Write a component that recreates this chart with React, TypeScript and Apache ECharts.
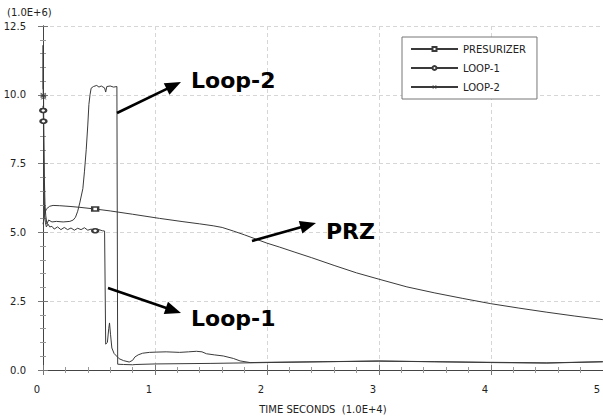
import React, { useEffect, useRef } from "react";
import * as echarts from "echarts";

// ---- data (time in 1.0E+4 s, value in 1.0E+6) ----
const przTime = [0, 0.005, 0.013, 0.03, 0.06, 0.09, 0.15, 0.25, 0.33, 0.466, 0.6, 0.8, 1.04, 1.25, 1.4, 1.52, 1.6, 1.7, 1.8, 1.9, 2.0, 2.11, 2.25, 2.4, 2.6, 2.8, 3.0, 3.25, 3.5, 3.75, 4.0, 4.25, 4.5, 4.75, 5.0];
const przValue = [5.3, 5.4, 5.65, 5.85, 5.95, 5.98, 5.97, 5.94, 5.91, 5.85, 5.78, 5.66, 5.51, 5.39, 5.31, 5.24, 5.18, 5.05, 4.91, 4.76, 4.61, 4.47, 4.28, 4.08, 3.8, 3.53, 3.3, 3.02, 2.8, 2.6, 2.41, 2.25, 2.1, 1.96, 1.83];
const przMarkerTime = [0.466];

const loop1Time = [0, 0.002, 0.004, 0.006, 0.01, 0.015, 0.022, 0.03, 0.045, 0.06, 0.08, 0.1, 0.13, 0.16, 0.19, 0.22, 0.25, 0.28, 0.31, 0.34, 0.37, 0.4, 0.43, 0.466, 0.5, 0.53, 0.55, 0.56, 0.575, 0.587, 0.594, 0.603, 0.615, 0.635, 0.68, 0.72, 0.77, 0.8, 0.82, 0.85, 0.89, 0.95, 1.01, 1.1, 1.22, 1.3, 1.37, 1.42, 1.46, 1.53, 1.61, 1.7, 1.76, 1.85, 2.0, 2.5, 3.0, 3.5, 4.0, 4.5, 5.0];
const loop1Value = [9.6, 9.43, 9.04, 8.0, 6.5, 5.6, 5.35, 5.2, 5.3, 5.2, 5.22, 5.12, 5.2, 5.1, 5.18, 5.1, 5.16, 5.08, 5.15, 5.1, 5.17, 5.08, 5.12, 5.06, 5.1, 5.06, 5.05, 0.94, 1.0, 1.5, 1.71, 1.3, 0.8, 0.6, 0.41, 0.34, 0.29, 0.35, 0.47, 0.55, 0.61, 0.64, 0.65, 0.66, 0.64, 0.66, 0.68, 0.66, 0.59, 0.55, 0.51, 0.42, 0.33, 0.27, 0.28, 0.3, 0.33, 0.3, 0.28, 0.26, 0.3];
const loop1MarkerTime = [0.002, 0.004, 0.466];

const loop2Time = [0, 0.001, 0.002, 0.003, 0.005, 0.008, 0.012, 0.018, 0.025, 0.035, 0.05, 0.08, 0.12, 0.18, 0.24, 0.27, 0.29, 0.31, 0.33, 0.356, 0.37, 0.386, 0.4, 0.41, 0.42, 0.43, 0.45, 0.48, 0.5, 0.52, 0.55, 0.56, 0.57, 0.6, 0.63, 0.66, 0.667, 0.72, 0.8, 0.83, 1.0, 1.5, 2.0, 2.5, 3.0, 3.5, 4.0, 4.5, 5.0];
const loop2Value = [10.2, 11.8, 10.0, 9.96, 9.9, 8.5, 7.0, 6.0, 5.6, 5.3, 5.45, 5.38, 5.4, 5.38, 5.4, 5.45, 5.55, 5.77, 6.1, 6.59, 7.2, 8.0, 8.9, 9.65, 10.0, 10.24, 10.3, 10.34, 10.28, 10.32, 10.25, 10.1, 10.3, 10.32, 10.28, 10.3, 0.21, 0.2, 0.19, 0.2, 0.22, 0.24, 0.27, 0.3, 0.32, 0.3, 0.27, 0.25, 0.3];
const loop2MarkerTime = [0.002, 0.003, 0.005];

const seriesNames = ["PRESURIZER", "LOOP-1", "LOOP-2"];
const yTicks = [0, 2.5, 5, 7.5, 10, 12.5];
const xTicks = [0, 1, 2, 3, 4, 5];

const X_SYMBOL = "path://M0,1L1,0L5,4L9,0L10,1L6,5L10,9L9,10L5,6L1,10L0,9L4,5Z";

function buildData(times: number[], values: number[], markers: number[]) {
  return times.map((t, i) =>
    markers.includes(t) ? { value: [t, values[i]] } : { value: [t, values[i]], symbol: "none" }
  );
}

function arrow(x1: number, y1: number, x2: number, y2: number) {
  const len = 16;
  const half = 6.5;
  const dx = x2 - x1;
  const dy = y2 - y1;
  const d = Math.sqrt(dx * dx + dy * dy);
  const ux = dx / d;
  const uy = dy / d;
  const bx = x2 - ux * len;
  const by = y2 - uy * len;
  return [
    { type: "line", shape: { x1, y1, x2: bx + ux * 2, y2: by + uy * 2 }, style: { stroke: "#000", lineWidth: 2.6 }, z: 100 },
    {
      type: "polygon",
      shape: { points: [[x2, y2], [bx - uy * half, by + ux * half], [bx + uy * half, by - ux * half]] },
      style: { fill: "#000" },
      z: 100,
    },
  ];
}

const FONT = "DejaVu Sans";

export default function App() {
  const ref = useRef<HTMLDivElement>(null);
  useEffect(() => {
    if (!ref.current) return;
    const chart = echarts.init(ref.current, undefined, { renderer: "svg" });
    const lineColor = "#3a3a3a";
    const axisCommon = {
      type: "value" as const,
      axisLine: { show: true, lineStyle: { color: "#444", width: 1 } },
      axisTick: { show: true, inside: true, length: 5, lineStyle: { color: "#777" } },
      minorTick: { show: true, splitNumber: 5, length: 3, lineStyle: { color: "#999" } },
    };
    const gridLine = { show: true, lineStyle: { color: "#d6d6d6", type: [4, 3], width: 1 } };
    chart.setOption({
      animation: false,
      backgroundColor: "#fff",
      grid: { left: 43, right: 0, top: 26, bottom: 39 },
      legend: {
        data: seriesNames,
        orient: "vertical",
        left: 402,
        top: 37,
        padding: [7, 11, 7, 8],
        itemWidth: 47,
        itemHeight: 5,
        itemGap: 9,
        borderColor: "#777",
        borderWidth: 1,
        backgroundColor: "#fff",
        textStyle: { fontFamily: FONT, fontSize: 10, color: "#222" },
      },
      xAxis: [
        {
          ...axisCommon,
          min: 0,
          max: 5,
          interval: 1,
          position: "bottom",
          name: "TIME SECONDS  (1.0E+4)",
          nameLocation: "middle",
          nameGap: 34,
          nameTextStyle: { fontFamily: FONT, fontSize: 10, color: "#222" },
          axisLabel: {
            fontFamily: FONT,
            fontSize: 10,
            color: "#222",
            margin: 14,
            padding: [0, 12, 0, 0],
            customValues: xTicks,
            formatter: (v: number) => String(v),
          },
          splitLine: gridLine,
        },
        {
          ...axisCommon,
          min: 0,
          max: 5,
          interval: 1,
          position: "top",
          axisLabel: { show: false },
          splitLine: { show: false },
        },
      ],
      yAxis: [
        {
          ...axisCommon,
          min: 0,
          max: 12.5,
          interval: 2.5,
          position: "left",
          axisLabel: {
            fontFamily: FONT,
            fontSize: 10,
            color: "#222",
            margin: 17,
            customValues: yTicks,
            formatter: (v: number) => v.toFixed(1),
          },
          splitLine: gridLine,
        },
        {
          ...axisCommon,
          min: 0,
          max: 12.5,
          interval: 2.5,
          position: "right",
          axisLabel: { show: false },
          splitLine: { show: false },
        },
      ],
      series: [
        {
          name: seriesNames[0],
          type: "line",
          data: buildData(przTime, przValue, przMarkerTime),
          symbol: "emptyRect",
          symbolSize: [6, 4],
          showSymbol: true,
          showAllSymbol: true,
          lineStyle: { color: lineColor, width: 1 },
          itemStyle: { color: lineColor, borderColor: lineColor, borderWidth: 1 },
          z: 3,
        },
        {
          name: seriesNames[1],
          type: "line",
          data: buildData(loop1Time, loop1Value, loop1MarkerTime),
          symbol: "emptyCircle",
          symbolSize: [6, 4],
          showSymbol: true,
          showAllSymbol: true,
          lineStyle: { color: lineColor, width: 1 },
          itemStyle: { color: lineColor, borderColor: lineColor, borderWidth: 1 },
          z: 3,
        },
        {
          name: seriesNames[2],
          type: "line",
          data: buildData(loop2Time, loop2Value, loop2MarkerTime),
          symbol: X_SYMBOL,
          symbolSize: [6, 4],
          showSymbol: true,
          showAllSymbol: true,
          lineStyle: { color: lineColor, width: 1 },
          itemStyle: { color: lineColor },
          z: 3,
        },
      ],
      graphic: [
        {
          type: "text",
          x: 7,
          y: 12,
          style: { text: "(1.0E+6)", fontFamily: FONT, fontSize: 10, fill: "#222", verticalAlign: "middle" },
        },
        {
          type: "text",
          x: 191,
          y: 80,
          style: { text: "Loop-2", fontFamily: FONT, fontWeight: "bold", fontSize: 22, fill: "#000", verticalAlign: "middle" },
          z: 100,
        },
        {
          type: "text",
          x: 326,
          y: 231,
          style: { text: "PRZ", fontFamily: FONT, fontWeight: "bold", fontSize: 22, fill: "#000", verticalAlign: "middle" },
          z: 100,
        },
        {
          type: "text",
          x: 191,
          y: 318,
          style: { text: "Loop-1", fontFamily: FONT, fontWeight: "bold", fontSize: 22, fill: "#000", verticalAlign: "middle" },
          z: 100,
        },
        ...arrow(117, 113, 181, 82),
        ...arrow(252, 241, 316, 223),
        ...arrow(108, 288, 181, 313),
      ],
    });
    return () => chart.dispose();
  }, []);
  return <div ref={ref} style={{ position: "fixed", left: 0, top: 0, width: 603, height: 419 }} />;
}
